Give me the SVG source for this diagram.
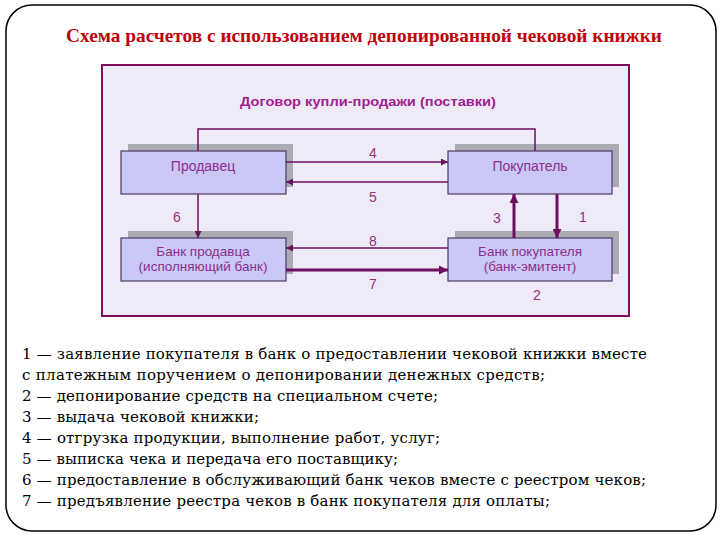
<svg xmlns="http://www.w3.org/2000/svg" width="720" height="540" viewBox="0 0 720 540">
<defs>
<style>
.frame{fill:#ffffff;stroke:#000000;stroke-width:1.5}
.panel{fill:#eeeaf8;stroke:#7a1058;stroke-width:2}
.title{font-family:"Liberation Serif","DejaVu Serif",serif;font-weight:bold;font-size:19px;fill:#c00008}
.sub{font-family:"Liberation Sans",Arial,sans-serif;font-weight:bold;font-size:13px;fill:#a0228f}
.shadow{fill:#ababb3}
.box{fill:#c9c8f6;stroke:#4e3a62;stroke-width:1.2}
.ntext{font-family:"Liberation Sans",Arial,sans-serif;font-size:14px;fill:#8e2e8c;text-anchor:middle}
.btext{font-family:"Liberation Sans",Arial,sans-serif;font-size:13.5px;fill:#8e2e8c;text-anchor:middle}
.lbl{font-family:"Liberation Sans",Arial,sans-serif;font-size:14px;fill:#9b2d7f;text-anchor:middle}
.ln{fill:none;stroke:#6b0f5f;stroke-width:1.5}
.thick{fill:none;stroke:#6b0f5f;stroke-width:3}
.leg{font-family:"DejaVu Serif","Liberation Serif",serif;font-size:15px;fill:#000000}
</style>
<marker id="ah" viewBox="0 0 10 10" refX="10" refY="5" markerWidth="8" markerHeight="7" markerUnits="userSpaceOnUse" orient="auto">
<path d="M0,0 L10,5 L0,10 z" fill="#6b0f5f"/>
</marker>
<marker id="ahb" viewBox="0 0 10 10" refX="10" refY="5" markerWidth="10" markerHeight="9" markerUnits="userSpaceOnUse" orient="auto">
<path d="M0,0 L10,5 L0,10 z" fill="#6b0f5f"/>
</marker>
</defs>

<rect class="frame" x="6" y="5" width="710" height="526" rx="26" ry="26"/>

<text class="title" x="66" y="42" textLength="596" lengthAdjust="spacingAndGlyphs">Схема расчетов с использованием депонированной чековой книжки</text>

<rect class="panel" x="102" y="65" width="527" height="251"/>
<text class="sub" x="240" y="106" textLength="256" lengthAdjust="spacingAndGlyphs">Договор купли-продажи (поставки)</text>

<g id="seller">
<rect class="shadow" x="128" y="144" width="165" height="43"/>
<rect class="box" x="121" y="151" width="165" height="43"/>
<text class="ntext" x="203" y="171">Продавец</text>
</g>
<g id="buyer">
<rect class="shadow" x="455" y="144" width="164" height="43"/>
<rect class="box" x="448" y="151" width="164" height="43"/>
<text class="ntext" x="530" y="171">Покупатель</text>
</g>
<g id="seller-bank">
<rect class="shadow" x="128" y="231" width="165" height="43"/>
<rect class="box" x="121" y="238" width="165" height="43"/>
<text class="btext" x="203" y="256">Банк продавца</text>
<text class="btext" x="203" y="271">(исполняющий банк)</text>
</g>
<g id="buyer-bank">
<rect class="shadow" x="455" y="231" width="164" height="43"/>
<rect class="box" x="448" y="238" width="164" height="43"/>
<text class="btext" x="530" y="256">Банк покупателя</text>
<text class="btext" x="530" y="271">(банк-эмитент)</text>
</g>

<g id="connectors">
<polyline class="ln" points="198,151 198,129 535,129 535,151"/>
<line class="ln" x1="286" y1="162" x2="448" y2="162" marker-end="url(#ah)"/>
<line class="ln" x1="448" y1="182" x2="286" y2="182" marker-end="url(#ah)"/>
<line class="ln" x1="198" y1="194" x2="198" y2="238" marker-end="url(#ah)"/>
<line class="ln" x1="448" y1="248" x2="286" y2="248" marker-end="url(#ah)"/>
<line class="thick" x1="286" y1="270" x2="448" y2="270" marker-end="url(#ahb)"/>
<line class="thick" x1="514" y1="238" x2="514" y2="194" marker-end="url(#ahb)"/>
<line class="thick" x1="557" y1="194" x2="557" y2="238" marker-end="url(#ahb)"/>
<text class="lbl" x="373" y="158">4</text>
<text class="lbl" x="373" y="202">5</text>
<text class="lbl" x="177" y="222">6</text>
<text class="lbl" x="373" y="246">8</text>
<text class="lbl" x="373" y="289">7</text>
<text class="lbl" x="497" y="223">3</text>
<text class="lbl" x="583" y="222">1</text>
<text class="lbl" x="537" y="300">2</text>
</g>

<g id="legend">
<text class="leg" x="22" y="359" textLength="625" lengthAdjust="spacing">1 — заявление покупателя в банк о предоставлении чековой книжки вместе</text>
<text class="leg" x="22" y="380" textLength="523" lengthAdjust="spacing">с платежным поручением о депонировании денежных средств;</text>
<text class="leg" x="22" y="401" textLength="416" lengthAdjust="spacing">2 — депонирование средств на специальном счете;</text>
<text class="leg" x="22" y="422" textLength="237" lengthAdjust="spacing">3 — выдача чековой книжки;</text>
<text class="leg" x="22" y="443" textLength="418" lengthAdjust="spacing">4 — отгрузка продукции, выполнение работ, услуг;</text>
<text class="leg" x="22" y="464" textLength="376" lengthAdjust="spacing">5 — выписка чека и передача его поставщику;</text>
<text class="leg" x="22" y="485" textLength="624" lengthAdjust="spacing">6 — предоставление в обслуживающий банк чеков вместе с реестром чеков;</text>
<text class="leg" x="22" y="506" textLength="528" lengthAdjust="spacing">7 — предъявление реестра чеков в банк покупателя для оплаты;</text>
</g>
</svg>
